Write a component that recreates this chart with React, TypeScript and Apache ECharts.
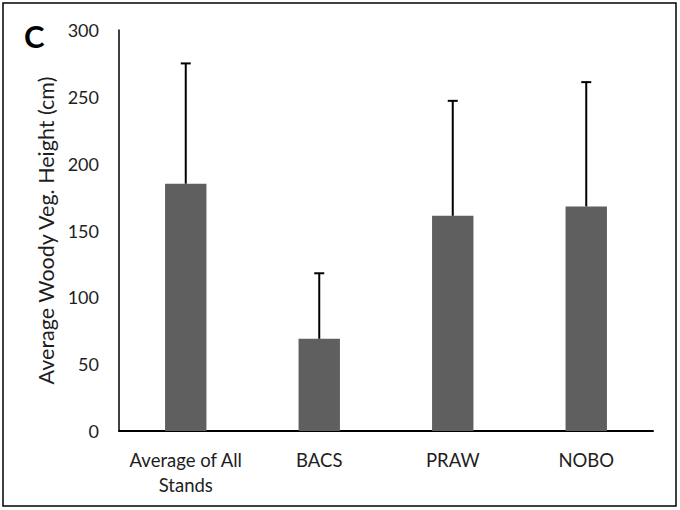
import React, { useEffect, useRef } from "react";
import * as echarts from "echarts";

const categories = ["Average of All\nStands", "BACS", "PRAW", "NOBO"];
const means = [185, 69, 161, 168];
const upperErrors = [275, 118, 247, 261];
const yTicks = { min: 0, max: 300, interval: 50 };

export default function App() {
  const ref = useRef<HTMLDivElement>(null);
  useEffect(() => {
    if (!ref.current) return;
    const chart = echarts.init(ref.current, null, { renderer: "svg" });
    const font = "Lato";
    chart.setOption({
      animation: false,
      backgroundColor: "#fff",
      grid: { left: 119, right: 27, top: 30, bottom: 79 },
      graphic: [
        {
          type: "rect",
          shape: { x: 3, y: 3, width: 673, height: 503 },
          style: { fill: "none", stroke: "#000", lineWidth: 1.5 },
        },
        {
          type: "text",
          x: 24,
          y: 20,
          style: { text: "C", font: `bold 31px ${font}`, fill: "#000" },
        },
      ],
      xAxis: {
        type: "category",
        data: categories,
        axisLine: { lineStyle: { color: "#000", width: 2 } },
        axisTick: { show: false },
        axisLabel: {
          color: "#1e1e1e",
          fontFamily: font,
          fontSize: 18.5,
          margin: 16,
          lineHeight: 25,
          interval: 0,
        },
      },
      yAxis: {
        type: "value",
        min: yTicks.min,
        max: yTicks.max,
        interval: yTicks.interval,
        splitLine: { show: false },
        axisLine: { show: true, lineStyle: { color: "#000", width: 1.5 } },
        axisTick: { show: false },
        axisLabel: { color: "#1e1e1e", fontFamily: font, fontSize: 18, margin: 20 },
        name: "Average Woody Veg. Height (cm)",
        nameLocation: "middle",
        nameGap: 60,
        nameTextStyle: { color: "#1e1e1e", fontFamily: font, fontSize: 21.5 },
      },
      series: [
        {
          type: "bar",
          data: means,
          barWidth: "31%",
          itemStyle: { color: "#5f5f5f" },
        },
        {
          type: "custom",
          data: categories.map((_, i) => [i, means[i], upperErrors[i]]),
          renderItem: (params: any, api: any) => {
            const i = api.value(0);
            const lo = api.coord([i, api.value(1)]);
            const hi = api.coord([i, api.value(2)]);
            const cap = 5;
            return {
              type: "group",
              children: [
                {
                  type: "line",
                  shape: { x1: lo[0], y1: lo[1], x2: hi[0], y2: hi[1] },
                  style: { stroke: "#000", lineWidth: 2 },
                },
                {
                  type: "line",
                  shape: { x1: hi[0] - cap, y1: hi[1], x2: hi[0] + cap, y2: hi[1] },
                  style: { stroke: "#000", lineWidth: 2 },
                },
              ],
            };
          },
          z: 10,
        },
      ],
    });
    return () => chart.dispose();
  }, []);
  return (
    <div
      ref={ref}
      style={{ position: "absolute", left: 0, top: 0, width: 680, height: 510 }}
    />
  );
}
